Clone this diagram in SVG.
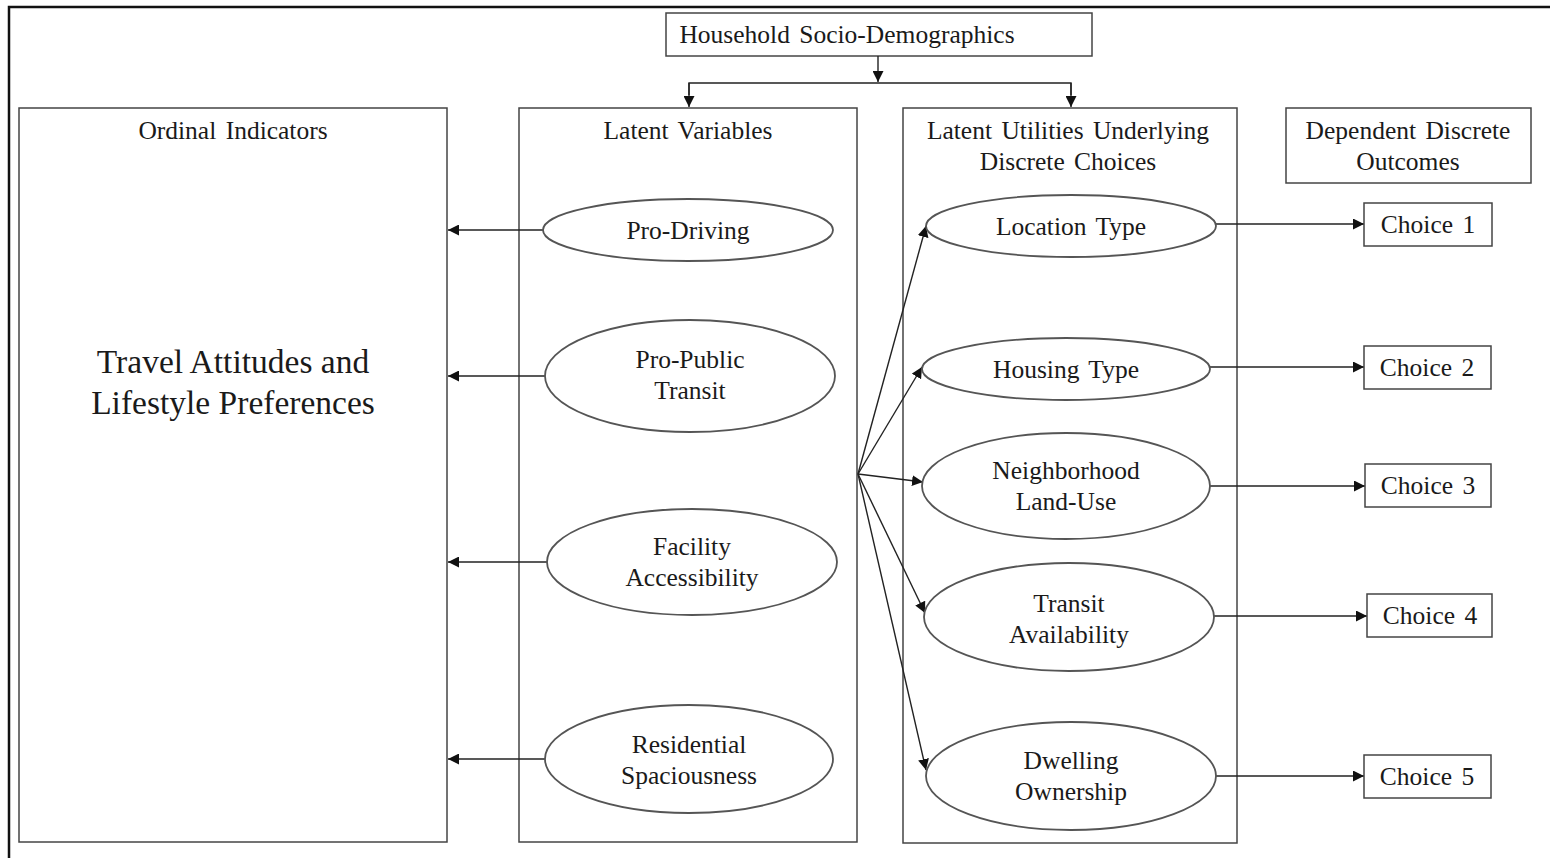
<svg xmlns="http://www.w3.org/2000/svg" width="1550" height="858" viewBox="0 0 1550 858">
<defs>
<marker id="ah" viewBox="0 0 10 10" refX="10" refY="5" markerWidth="11" markerHeight="11" markerUnits="userSpaceOnUse" orient="auto">
<path d="M0,0 L10,5 L0,10 z" fill="#111"/>
</marker>
<style>
.box{fill:#fff;stroke:#444;stroke-width:1.5}
.ell{fill:#fff;stroke:#555;stroke-width:1.8}
.t{font-family:"Liberation Serif","Times New Roman",serif;font-size:25.5px;fill:#1a1a1a;text-anchor:middle;word-spacing:3px}
.big{font-size:33.5px;word-spacing:0}
.c{stroke:#222;stroke-width:1.4;fill:none}
.ca{stroke:#222;stroke-width:1.4;fill:none;marker-end:url(#ah)}
</style>
</defs>
<rect width="1550" height="858" fill="#fff"/>
<rect x="9" y="7" width="1560" height="870" fill="none" stroke="#111" stroke-width="2.5"/>

<g id="household"><rect class="box" x="666" y="13" width="426" height="43"/><text class="t" x="847" y="43">Household Socio-Demographics</text></g>

<g id="ordinal"><rect class="box" x="19" y="108" width="428" height="734"/><text class="t" x="233" y="139">Ordinal Indicators</text>
<text class="t big" x="233" y="373">Travel Attitudes and</text><text class="t big" x="233" y="414">Lifestyle Preferences</text></g>

<g id="latent"><rect class="box" x="519" y="108" width="338" height="734"/><text class="t" x="688" y="139">Latent Variables</text></g>

<g id="utilities"><rect class="box" x="903" y="108" width="334" height="735"/><text class="t" x="1068" y="139">Latent Utilities Underlying</text><text class="t" x="1068" y="170">Discrete Choices</text></g>

<g id="dependent"><rect class="box" x="1286" y="108" width="245" height="75"/><text class="t" x="1408" y="139">Dependent Discrete</text><text class="t" x="1408" y="170">Outcomes</text></g>

<g id="connectors">
<line class="ca" x1="878" y1="56" x2="878" y2="82"/>
<polyline class="c" points="689,95 689,83 1071,83 1071,95"/>
<line class="ca" x1="689" y1="83" x2="689" y2="107"/>
<line class="ca" x1="1071" y1="83" x2="1071" y2="107"/>
<line class="ca" x1="543" y1="230" x2="448" y2="230"/>
<line class="ca" x1="546" y1="376" x2="448" y2="376"/>
<line class="ca" x1="548" y1="562" x2="448" y2="562"/>
<line class="ca" x1="546" y1="759" x2="448" y2="759"/>
<line class="ca" x1="858" y1="474" x2="926" y2="226"/>
<line class="ca" x1="858" y1="474" x2="922" y2="367"/>
<line class="ca" x1="858" y1="474" x2="923" y2="482"/>
<line class="ca" x1="858" y1="474" x2="925" y2="613"/>
<line class="ca" x1="858" y1="474" x2="926" y2="770"/>
<line class="ca" x1="1216" y1="224" x2="1364" y2="224"/>
<line class="ca" x1="1210" y1="367" x2="1364" y2="367"/>
<line class="ca" x1="1210" y1="486" x2="1365" y2="486"/>
<line class="ca" x1="1213" y1="616" x2="1367" y2="616"/>
<line class="ca" x1="1216" y1="776" x2="1364" y2="776"/>
</g>

<g id="pro-driving"><ellipse class="ell" cx="688" cy="230" rx="145" ry="31"/><text class="t" x="688" y="239">Pro-Driving</text></g>
<g id="pro-public-transit"><ellipse class="ell" cx="690" cy="376" rx="145" ry="56"/><text class="t" x="690" y="368">Pro-Public</text><text class="t" x="690" y="399">Transit</text></g>
<g id="facility-accessibility"><ellipse class="ell" cx="692" cy="562" rx="145" ry="53"/><text class="t" x="692" y="555">Facility</text><text class="t" x="692" y="586">Accessibility</text></g>
<g id="residential-spaciousness"><ellipse class="ell" cx="689" cy="759" rx="144" ry="54"/><text class="t" x="689" y="753">Residential</text><text class="t" x="689" y="784">Spaciousness</text></g>

<g id="location-type"><ellipse class="ell" cx="1071" cy="226" rx="145" ry="31"/><text class="t" x="1071" y="235">Location Type</text></g>
<g id="housing-type"><ellipse class="ell" cx="1066" cy="369" rx="144" ry="31"/><text class="t" x="1066" y="378">Housing Type</text></g>
<g id="neighborhood-land-use"><ellipse class="ell" cx="1066" cy="486" rx="144" ry="53"/><text class="t" x="1066" y="479">Neighborhood</text><text class="t" x="1066" y="510">Land-Use</text></g>
<g id="transit-availability"><ellipse class="ell" cx="1069" cy="617" rx="145" ry="54"/><text class="t" x="1069" y="612">Transit</text><text class="t" x="1069" y="643">Availability</text></g>
<g id="dwelling-ownership"><ellipse class="ell" cx="1071" cy="776" rx="145" ry="54"/><text class="t" x="1071" y="769">Dwelling</text><text class="t" x="1071" y="800">Ownership</text></g>

<g id="choice-1"><rect class="box" x="1364" y="203" width="128" height="43"/><text class="t" x="1428" y="233">Choice 1</text></g>
<g id="choice-2"><rect class="box" x="1364" y="346" width="127" height="43"/><text class="t" x="1427" y="376">Choice 2</text></g>
<g id="choice-3"><rect class="box" x="1365" y="464" width="126" height="43"/><text class="t" x="1428" y="494">Choice 3</text></g>
<g id="choice-4"><rect class="box" x="1367" y="594" width="125" height="43"/><text class="t" x="1430" y="624">Choice 4</text></g>
<g id="choice-5"><rect class="box" x="1364" y="755" width="127" height="43"/><text class="t" x="1427" y="785">Choice 5</text></g>
</svg>
